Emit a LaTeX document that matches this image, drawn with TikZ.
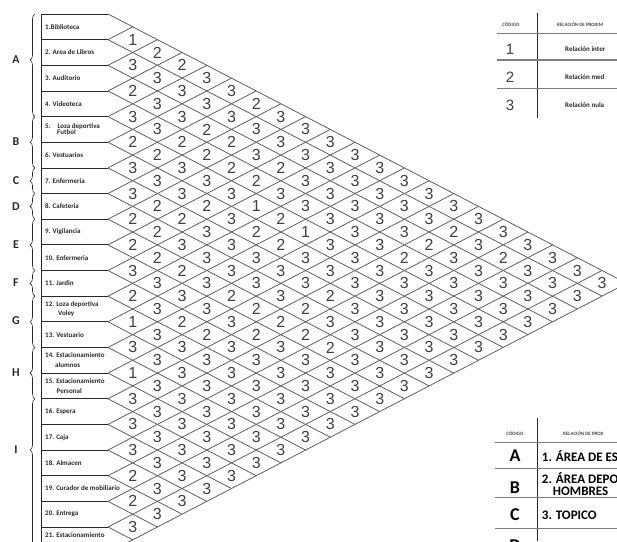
\documentclass[tikz,border=0pt]{standalone}
\usepackage{fontspec}
\setmainfont{Carlito}
\newfontfamily\numfont{Liberation Sans}
\usetikzlibrary{decorations.pathreplacing}
\definecolor{grid_color}{RGB}{95,95,95}
\definecolor{num_color}{RGB}{64,64,64}
\definecolor{text_color}{RGB}{40,40,40}
\definecolor{rule_color}{RGB}{125,125,125}
\tikzset{
  gridline/.style={draw=grid_color, line width=0.8pt},
  rowline/.style={draw=text_color, line width=0.8pt},
  relnum/.style={
    font=\numfont\fontsize{16}{16}\selectfont, text=num_color, inner sep=0pt
  },
  rowlabel/.style={
    anchor=west, align=left, inner sep=0pt, text=text_color,
    font=\bfseries\fontsize{7}{9.5}\selectfont
  },
  grouplabel/.style={
    font=\bfseries\fontsize{12}{12}\selectfont, text=text_color, inner sep=0pt
  },
  groupbrace/.style={
    draw=text_color, line width=0.6pt, decorate,
    decoration={brace, amplitude=5pt, aspect=#1}
  },
  tabrule/.style={draw=rule_color, line width=1.5pt},
  tabsep/.style={draw=text_color, line width=0.8pt},
  tabhead/.style={
    font=\bfseries\fontsize{5}{5}\selectfont, text=text_color!85, inner sep=0pt
  },
  tabcode/.style={
    font=\numfont\fontsize{15}{15}\selectfont, text=num_color, inner sep=0pt
  },
  tabletter/.style={
    font=\bfseries\fontsize{18}{18}\selectfont, text=black, inner sep=0pt
  },
  tabtext/.style={
    anchor=west, inner sep=0pt, text=text_color,
    font=\bfseries\fontsize{7}{7}\selectfont
  },
  areatext/.style={
    anchor=west, inner sep=0pt, align=left, text=black,
    font=\bfseries\fontsize{13}{12}\selectfont
  }
}

\begin{document}
\begin{tikzpicture}[x=1pt, y=-1pt]
\useasboundingbox (0,0) rectangle (617,541);
\clip (0,0) rectangle (617,541);

\foreach \k in {0,...,21} {
  \coordinate (l\k) at (41, {14+25.65*\k});
  \coordinate (b\k) at (108, {14+25.65*\k});
  \draw[rowline] (l\k) -- (b\k);
  \draw[gridline] (b\k) -- ++({24.7*(21-\k)}, {12.825*(21-\k)});
  \draw[gridline] (b\k) -- ++({24.7*\k}, {-12.825*\k});
}
\draw[rowline] (l0) -- (l21);

\foreach \i/\txt in {1/{1.Biblioteca}, 2/{2. Area de Libros}, 3/{3. Auditorio},
    4/{4. Videoteca}, 5/{5.\hspace{7pt}Loza deportiva\\[-3.5pt]\hspace*{12pt}Futbol},
    6/{6. Vestuarios}, 7/{7. Enfermeria}, 8/{8. Cafeteria}, 9/{9. Vigilancia},
    10/{10. Enfermeria}, 11/{11. Jardin}, 12/{12. Loza deportiva\\\hspace*{13pt}Voley},
    13/{13. Vestuario}, 14/{14. Estacionamiento\\\hspace*{10pt}alumnos},
    15/{15. Estacionamiento\\\hspace*{11.5pt}Personal}, 16/{16. Espera}, 17/{17. Caja},
    18/{18. Almacen}, 19/{19. Curador de mobiliario}, 20/{20. Entrega}} {
  \node[rowlabel] (lab\i) at (45, {14+25.65*(\i-0.5)}) {\txt};
}
\node[rowlabel] (lab21) at (45, 535.5) {21. Estacionamiento};

\foreach \g/\kt/\kb/\asp/\ly in {A/0/4/0.55/60, B/4/6/0.5/142, C/6/7/0.5/181,
    D/7/8/0.5/206.5, E/8/10/0.5/245, F/10/11/0.5/283, G/11/13/0.5/321,
    H/13/15/0.5/373, I/15/21/0.667/450} {
  \draw[groupbrace=\asp] (35, {14+25.65*\kb}) -- (35, {14+25.65*\kt});
  \node[grouplabel] (grp\g) at (16, \ly) {\g};
}

\foreach \i/\vals in {
    1/{1,2,2,3,3,2,3,3,3,3,3,3,3,3,3,3,3,3,3,3},
    2/{3,3,3,3,3,3,3,3,3,3,3,3,3,2,3,2,3,3,3},
    3/{2,3,3,2,2,3,2,3,3,3,3,3,2,3,3,3,3,3},
    4/{3,3,2,2,2,2,3,3,3,3,3,2,3,3,3,3,3},
    5/{2,2,3,3,3,1,2,1,3,3,3,3,3,3,3,3},
    6/{3,3,3,2,3,2,2,3,3,3,3,3,3,3,3},
    7/{3,2,2,3,3,3,3,3,2,3,3,3,3,3},
    8/{2,2,3,3,3,3,3,2,3,3,3,3,3},
    9/{2,2,2,3,2,2,2,2,2,3,3,3},
    10/{3,3,3,3,3,2,3,3,3,3,3},
    11/{2,3,2,2,3,3,3,3,3,3},
    12/{1,3,3,3,3,3,3,3,3},
    13/{3,3,3,3,3,3,3,3},
    14/{1,3,3,3,3,3,3},
    15/{3,3,3,3,3,3},
    16/{3,3,3,3,3},
    17/{3,3,3,3},
    18/{2,3,3},
    19/{2,3},
    20/{3}} {
  \foreach \v [count=\c] in \vals {
    \pgfmathtruncatemacro\j{\i+\c}
    \node[relnum] (r\i-\j) at ({108+24.7*\c}, {14+12.825*(2*\i+\c-1)}) {\v};
  }
}

\node[tabhead] (cod1) at (511,24) {CÓDIGO};
\node[tabhead, anchor=west] (prox1) at (557,24) {RELACIÓN DE PROXIM};
\coordinate (t1top) at (537.7,13.3);
\coordinate (t1bot) at (537.7,118.3);
\draw[tabsep] (t1top) -- (t1bot);
\foreach \yy in {33.3,60,88.3} {
  \draw[tabrule] (497,\yy) -- (617,\yy);
}
\foreach \c/\yy/\t in {1/49.5/Relación inter, 2/77/Relación med, 3/105.5/Relación nula} {
  \node[tabcode] (code\c) at (510,\yy) {\c};
  \node[tabtext] (rel\c) at (565,\yy) {\t};
}

\node[tabhead] (cod2) at (515,433) {CÓDIGO};
\node[tabhead, anchor=west] (prox2) at (563,433) {RELACIÓN DE PROX};
\coordinate (t2top) at (537.7,418);
\coordinate (t2bot) at (537.7,541);
\draw[tabsep] (t2top) -- (t2bot);
\foreach \yy in {442.7,468.3,497.7,528.3} {
  \draw[tabrule] (495,\yy) -- (617,\yy);
}
\node[tabletter] (zoneA) at (515,455.5) {A};
\node[tabletter] (zoneB) at (515,488) {B};
\node[tabletter] (zoneC) at (515,515) {C};
\node[tabletter] (zoneD) at (515,546) {D};
\node[areatext] (areaA) at (541.7,456.5) {1. ÁREA DE ES};
\node[areatext] (areaB) at (541.7,484) {2. ÁREA DEPO\\\hspace*{11pt}HOMBRES};
\node[areatext] (areaC) at (541.7,515) {3. TOPICO};

\end{tikzpicture}
\end{document}
